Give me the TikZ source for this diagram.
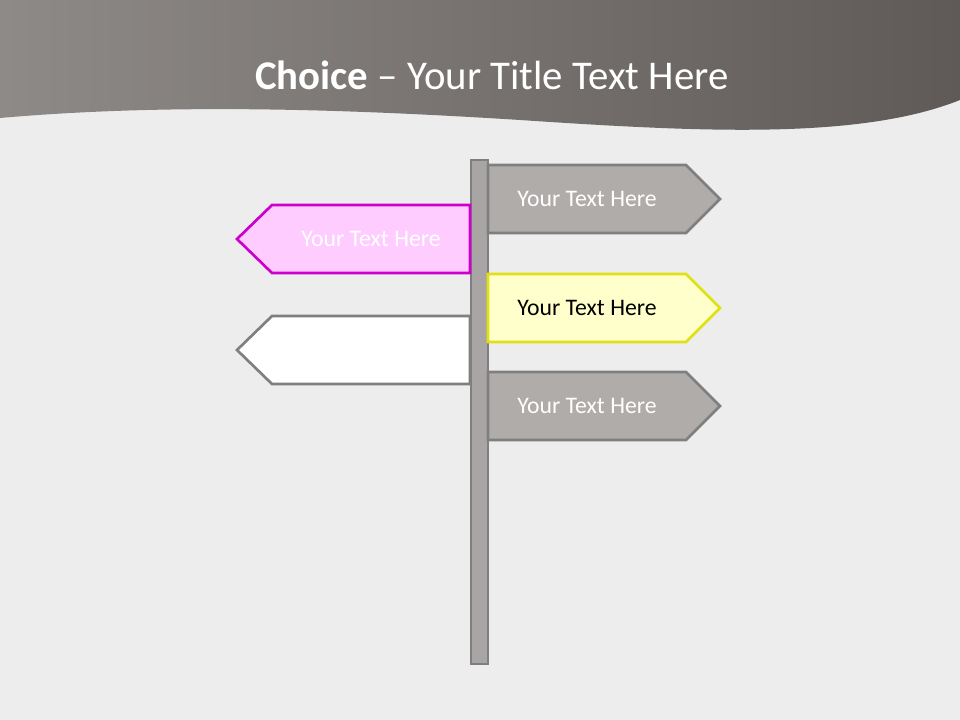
\documentclass[tikz,border=0pt]{standalone}
\usepackage{fontspec}
\setmainfont{Carlito}
\usetikzlibrary{calc}
\definecolor{paper}{HTML}{EDEDED}
\definecolor{bandlt}{HTML}{8E8A88}
\definecolor{banddk}{HTML}{5F5A58}
\definecolor{signgrey}{HTML}{B0ACAA}
\definecolor{signedge}{HTML}{7F7F7F}
\definecolor{polefill}{HTML}{A9A5A4}
\definecolor{pinkfill}{HTML}{FFCCFF}
\definecolor{pinkedge}{HTML}{CC00CC}
\definecolor{yelfill}{HTML}{FFFFCC}
\definecolor{yeledge}{HTML}{E0E014}

\begin{document}
\begin{tikzpicture}[
  x=0.75pt,y=-0.75pt,
  greysign/.style={draw=signedge,fill=signgrey,line width=2pt},
  pinksign/.style={draw=pinkedge,fill=pinkfill,line width=2pt},
  yelsign/.style={draw=yeledge,fill=yelfill,line width=2pt},
  whitesign/.style={draw=signedge,fill=white,line width=2pt},
  polebar/.style={draw=signedge,fill=polefill,line width=2pt},
  signtxt/.style={font=\fontsize{17.8}{21}\selectfont,text=white},
  titletxt/.style={font=\fontsize{30.6}{36}\selectfont,text=white}
]
\useasboundingbox (0,0) rectangle (960,720);
% paper
\fill[paper] (0,0) rectangle (960,720);
% title band
\shade[left color=bandlt,right color=banddk] (0,0) -- (960,0) -- (960,100)
  .. controls (860,140) and (700,132) .. (520,120)
  .. controls (330,108) and (160,104) .. (0,118) -- cycle;
\node[titletxt] (title) at (492,75) {\textbf{Choice} -- Your Title Text Here};
% pole
\draw[polebar] (471,160) rectangle (488,664);
% signs to the right
\foreach \t/\st/\tc/\i in {165/greysign/white/1,274/yelsign/black/2,372/greysign/white/3}{
  \draw[\st] (488,\t) -- (686,\t) -- (720,\t+34) -- (686,\t+68) -- (488,\t+68) -- cycle;
  \node[signtxt,text=\tc] (right\i) at (587,\t+34) {Your Text Here};
}
% signs to the left
\draw[pinksign] (470,205) -- (272,205) -- (237,239) -- (272,273) -- (470,273) -- cycle;
\node[signtxt] (left1) at (371,239) {Your Text Here};
\draw[whitesign] (470,316) -- (272,316) -- (237,350) -- (272,384) -- (470,384) -- cycle;
\end{tikzpicture}
\end{document}
